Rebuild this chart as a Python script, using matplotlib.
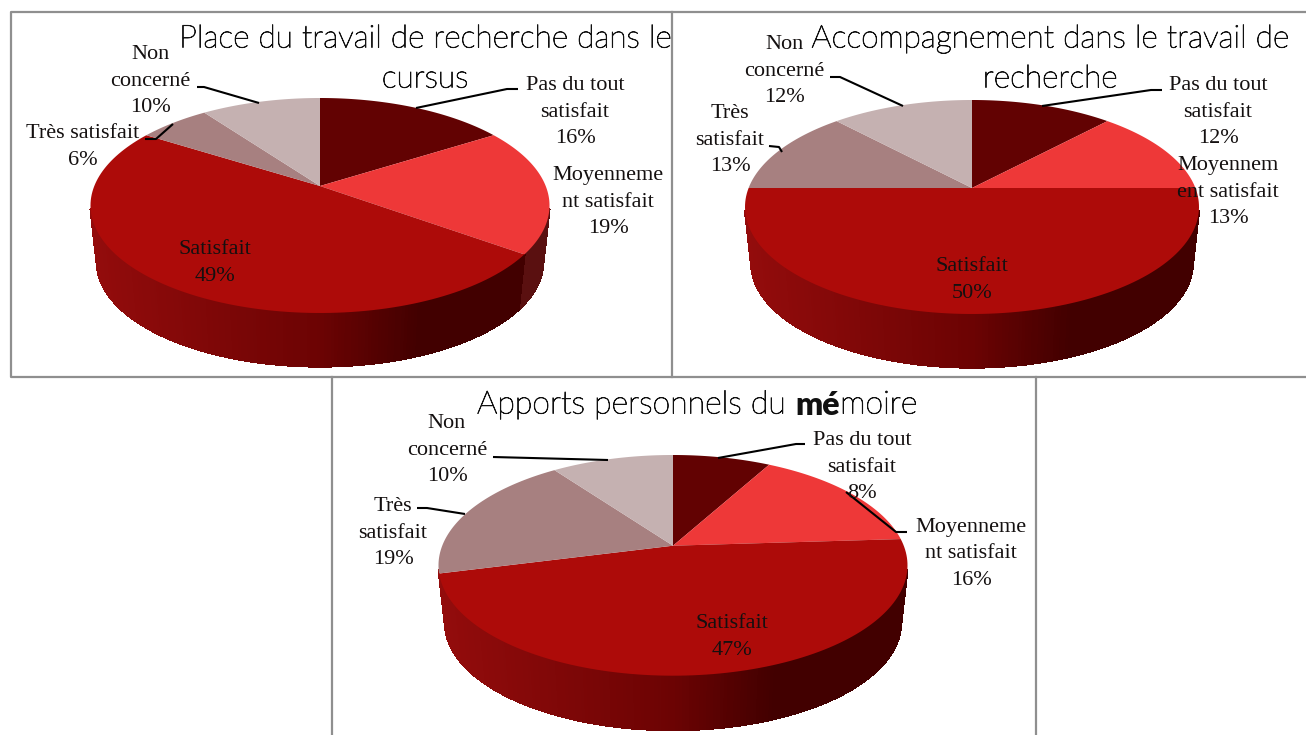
import matplotlib
matplotlib.use('Agg')
import matplotlib.pyplot as plt
import matplotlib.patheffects as pe
import numpy as np
from matplotlib.collections import PolyCollection
from matplotlib.colors import LinearSegmentedColormap

# values in percent, clockwise from 12 o'clock
values_place = [16, 19, 49, 6, 10]
values_accomp = [12, 13, 50, 13, 12]
values_apports = [8, 16, 47, 19, 10]

labels_place = ['Pas du tout\nsatisfait', 'Moyenneme\nnt satisfait', 'Satisfait', 'Très satisfait', 'Non\nconcerné']
labels_accomp = ['Pas du tout\nsatisfait', 'Moyennem\nent satisfait', 'Satisfait', 'Très\nsatisfait', 'Non\nconcerné']
labels_apports = ['Pas du tout\nsatisfait', 'Moyenneme\nnt satisfait', 'Satisfait', 'Très\nsatisfait', 'Non\nconcerné']

top_colors = ['#620202', '#ee3838', '#ad0b09', '#a78080', '#c5b1b1']
# only the second slice keeps its own wall colour, the rest follow the gradient
side_colors = [None, '#5a1010', None, None, None]
side_cmap = LinearSegmentedColormap.from_list(
    'side', [(0, '#930c0c'), (0.5, '#6c0303'), (0.72, '#420000'), (1, '#420000')])

LABEL_FONT = ['Liberation Serif', 'DejaVu Serif']
TITLE_FONT = ['Lato', 'DejaVu Sans']


def project(frac, apex, top, bottom, half_w, depth=0, shrink=1.0):
    # perspective view of the unit disc, so slices still meet at the apex
    cx, cy = apex
    up = cy - top
    down = bottom - cy
    p = (up - down) / (up + down)
    a = up * (1 - p)
    c = half_w * np.sqrt(1 - p ** 2)
    u = np.sin(2 * np.pi * frac)
    v = -np.cos(2 * np.pi * frac)
    den = 1 + p * v
    return cx + shrink * c * u / den, cy + shrink * a * v / den + depth


def draw_pie(ax, values, apex, top, bottom, half_w, depth):
    edges = np.cumsum([0] + values) / sum(values)

    # side wall first, only the part facing us
    quads, cols = [], []
    for i in range(len(values)):
        lo = max(edges[i], 0.285)
        hi = min(edges[i + 1], 0.715)
        if hi <= lo:
            continue
        n = max(int((hi - lo) * 500), 2)
        f = np.linspace(lo, hi, n + 1)
        x0, y0 = project(f, apex, top, bottom, half_w)
        x1, y1 = project(f, apex, top, bottom, half_w, depth, 0.972)
        for j in range(n):
            quads.append([(x0[j], y0[j]), (x0[j + 1], y0[j + 1]), (x1[j + 1], y1[j + 1]), (x1[j], y1[j])])
            if side_colors[i] is None:
                cols.append(side_cmap((x0[j] - apex[0] + half_w) / (2 * half_w)))
            else:
                cols.append(side_colors[i])
    ax.add_collection(PolyCollection(quads, facecolors=cols, edgecolors=cols, linewidths=1.0,
                                     antialiaseds=False, zorder=2))

    for i in range(len(values)):
        f = np.linspace(edges[i], edges[i + 1], 120)
        x, y = project(f, apex, top, bottom, half_w)
        ax.fill(np.r_[apex[0], x], np.r_[apex[1], y], color=top_colors[i], lw=0, zorder=3)


def put_labels(ax, labels, values, spots):
    for lab, val, (x, y) in zip(labels, values, spots):
        ax.text(x, y, f'{lab}\n{val}%', ha='center', va='center', fontsize=16, color='#141010',
                family=LABEL_FONT, linespacing=1.56, zorder=6)


def put_leaders(ax, leaders):
    for xs, ys in leaders:
        ax.plot(xs, ys, color='black', lw=1.5, solid_capstyle='butt', zorder=5)


fig = plt.figure(figsize=(13.06, 7.35), dpi=100)
ax = fig.add_axes([0, 0, 1, 1])
ax.set_xlim(0, 1306)
ax.set_ylim(735, 0)
ax.axis('off')

# panel frames
frame = '#8f8f8f'
ax.plot([1306, 11, 11, 1306], [12, 12, 377, 377], color=frame, lw=1.6, zorder=1)
ax.plot([672, 672], [12, 377], color=frame, lw=1.6, zorder=1)
ax.plot([332, 332], [377, 735], color=frame, lw=1.6, zorder=1)
ax.plot([1036, 1036], [377, 735], color=frame, lw=1.6, zorder=1)

draw_pie(ax, values_place, (320, 186), 98, 313, 229.5, 57)
draw_pie(ax, values_accomp, (972, 188), 100, 314, 227, 57)
draw_pie(ax, values_apports, (673, 545.7), 455, 675.7, 234.5, 58)

put_labels(ax, labels_place, values_place,
           [(575, 112), (608, 202), (215, 263), (83, 147), (150, 81)])
put_labels(ax, labels_accomp, values_accomp,
           [(1218, 112), (1228, 192), (972, 280), (730, 140), (784, 71)])
put_labels(ax, labels_apports, values_apports,
           [(862, 467), (971, 554), (732, 637), (393, 533), (447, 450)])

put_leaders(ax, [([518, 507, 416], [89, 89, 108]),
                 ([197, 204, 259], [87, 87, 103]),
                 ([145, 156, 173], [139, 139, 124]),
                 ([1162, 1151, 1042], [90, 90, 106]),
                 ([830, 840, 903], [77, 77, 106]),
                 ([769, 779, 782], [146, 147, 152]),
                 ([805, 796, 718], [444, 444, 458]),
                 ([907, 896, 846], [532, 532, 492]),
                 ([493, 608], [457, 460]),
                 ([417, 427, 465], [508, 508, 514])])

# the light weight alone comes out grey, a hair of stroke darkens it
ink = [pe.withStroke(linewidth=0.6, foreground='#111111')]
title_kw = dict(color='#111111', family=TITLE_FONT, va='center', zorder=4)
ax.text(425, 39, 'Place du travail de recherche dans le', ha='center', fontsize=22.8, weight='light', path_effects=ink, **title_kw)
ax.text(425, 79, 'cursus', ha='center', fontsize=22.8, weight='light', path_effects=ink, **title_kw)
ax.text(1050, 39, 'Accompagnement dans le travail de', ha='center', fontsize=22.8, weight='light', path_effects=ink, **title_kw)
ax.text(1050, 79, 'recherche', ha='center', fontsize=22.8, weight='light', path_effects=ink, **title_kw)

# third title has a bold bit in the middle
fig.canvas.draw()
renderer = fig.canvas.get_renderer()
x = 477
for piece, w in [('Apports personnels du ', 'light'), ('mé', 'heavy'), ('moire', 'light')]:
    t = ax.text(x, 405, piece.replace(' ', '\u00a0'), ha='left', fontsize=23.1, weight=w, **title_kw)
    if w == 'light':
        t.set_path_effects(ink)
    x = x + t.get_window_extent(renderer).width

fig.savefig('out.png', dpi=100)
